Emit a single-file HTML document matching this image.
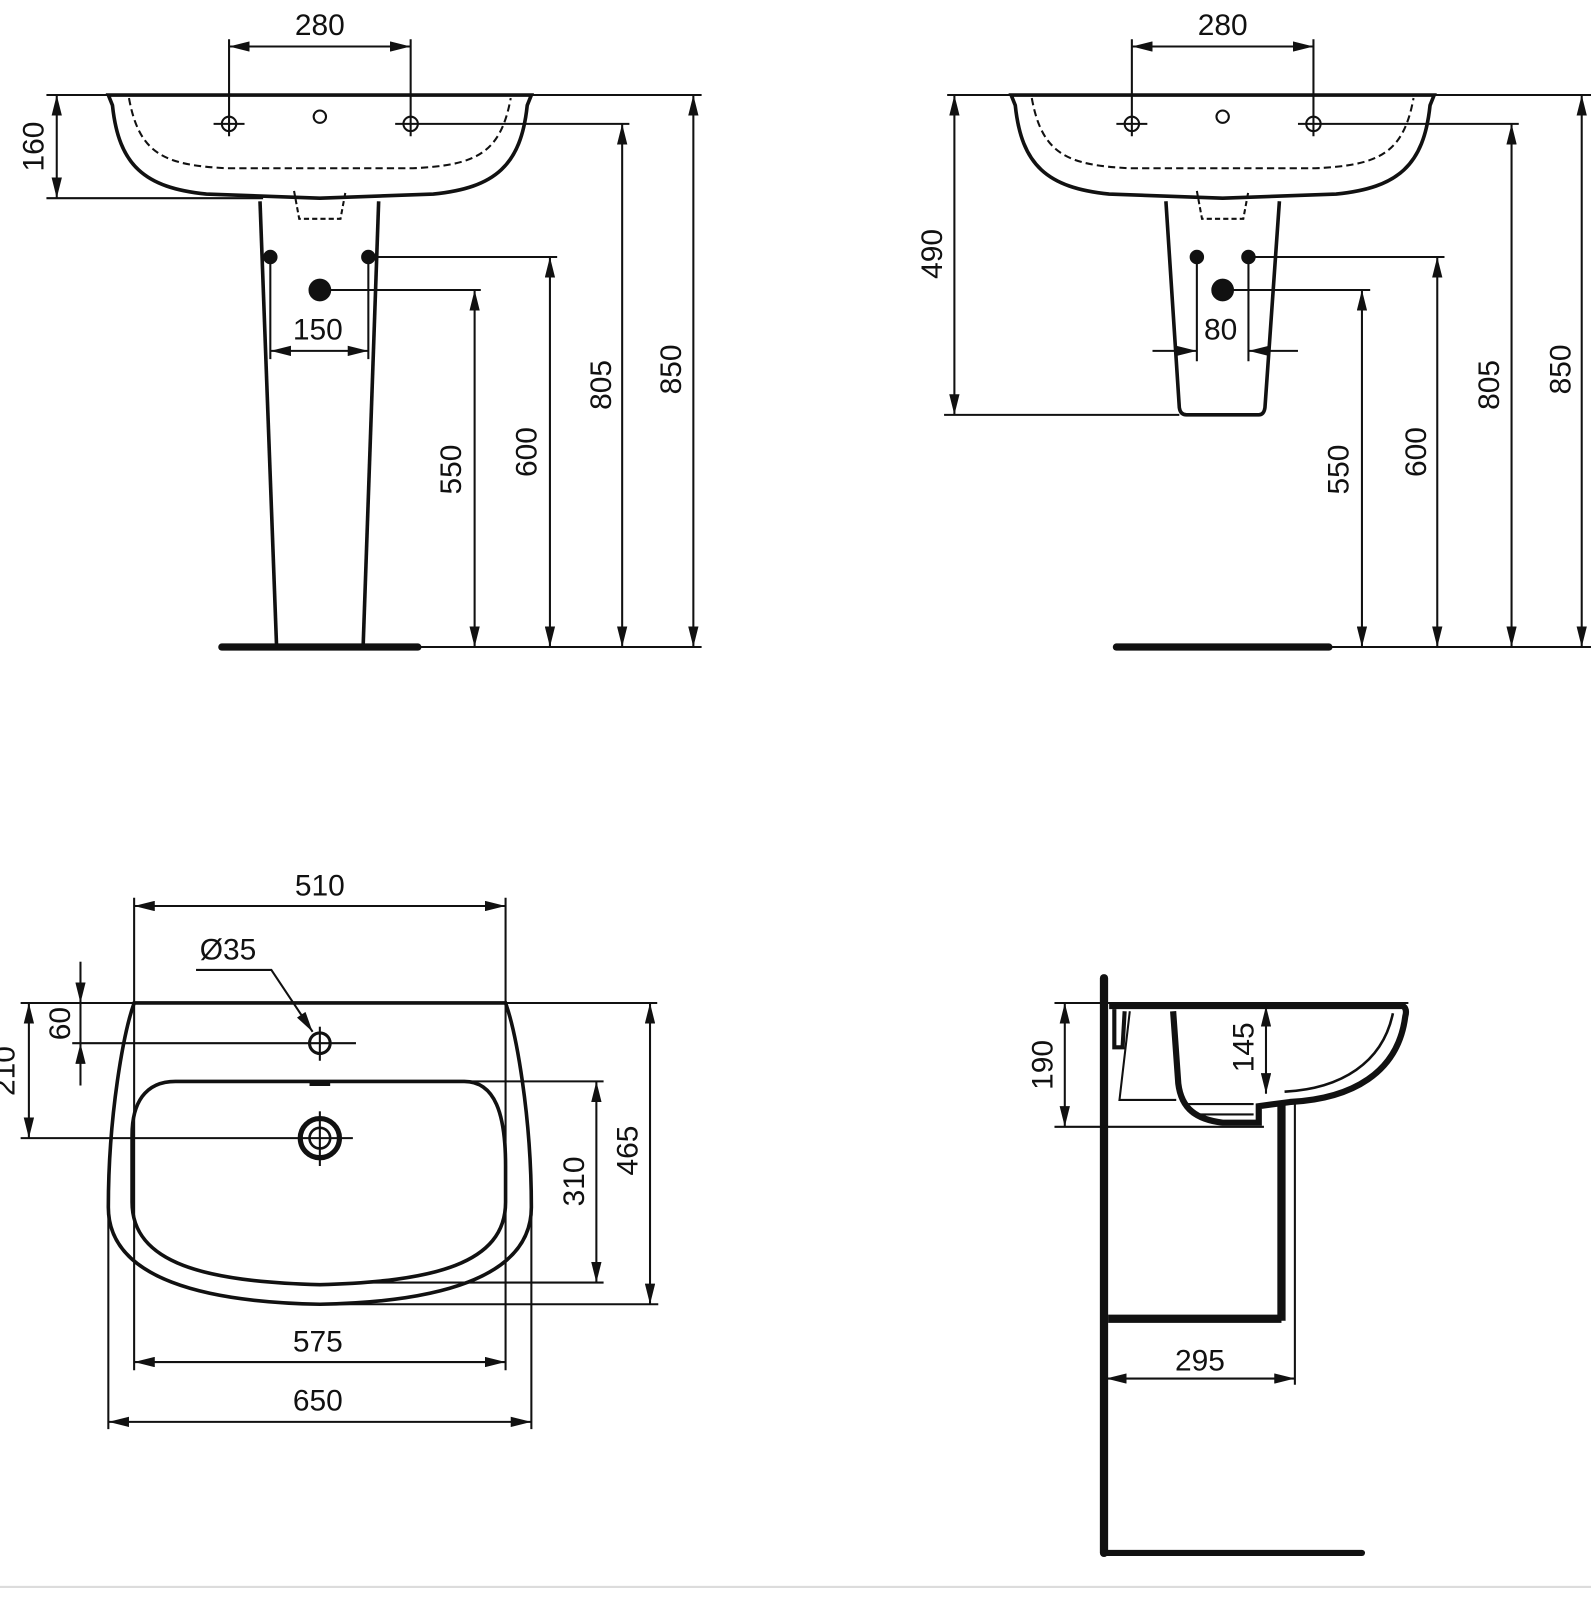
<!DOCTYPE html>
<html><head><meta charset="utf-8"><style>
html,body{margin:0;padding:0;background:#fff;}
svg{display:block;}
text{font-family:"Liberation Sans",Arial,sans-serif;font-size:29px;fill:#111;}
</style></head><body>
<svg width="1591" height="1618" viewBox="0 0 1542 1568" xmlns="http://www.w3.org/2000/svg">
<defs>
<marker id="a" viewBox="0 0 20 10" refX="20" refY="5" markerWidth="20" markerHeight="10" markerUnits="userSpaceOnUse" orient="auto-start-reverse"><path d="M0,0 L20,5 L0,10 Z" fill="#111"/></marker>
</defs>
<g stroke="#111" fill="none" stroke-width="2">
<!-- ===== TOP LEFT ===== -->
<line x1="45" y1="92" x2="680" y2="92"/>
<path d="M105,92 L515,92 L511,102 C505,160 480,182 420,188 L310,192 L200,188 C140,182 115,160 109,102 Z" stroke-width="3.5"/>
<path d="M125,95 C135,150 160,160 220,163 L400,163 C460,160 485,150 495,95" stroke-dasharray="7,4"/>
<circle cx="222" cy="120" r="7"/><line x1="207" y1="120" x2="237" y2="120"/><line x1="222" y1="38" x2="222" y2="132"/>
<circle cx="398" cy="120" r="7"/><line x1="383" y1="120" x2="610" y2="120"/><line x1="398" y1="38" x2="398" y2="132"/>
<circle cx="310" cy="113" r="6"/>
<line x1="222" y1="45" x2="398" y2="45" marker-start="url(#a)" marker-end="url(#a)"/>
<line x1="45" y1="192" x2="255" y2="192"/>
<line x1="55" y1="92" x2="55" y2="192" marker-start="url(#a)" marker-end="url(#a)"/>
<path d="M285,185 L290,212 L330,212 L335,185" stroke-dasharray="5,3"/>
<line x1="252" y1="195" x2="268" y2="625" stroke-width="3.5"/>
<line x1="367" y1="195" x2="352" y2="625" stroke-width="3.5"/>
<line x1="215" y1="627" x2="405" y2="627" stroke-width="7" stroke-linecap="round"/>
<line x1="405" y1="627" x2="680" y2="627"/>
<circle cx="262" cy="249" r="6" fill="#111"/><circle cx="357" cy="249" r="6" fill="#111"/><circle cx="310" cy="281" r="10" fill="#111"/>
<line x1="357" y1="249" x2="540" y2="249"/><line x1="310" y1="281" x2="466" y2="281"/>
<line x1="262" y1="249" x2="262" y2="348"/><line x1="357" y1="249" x2="357" y2="348"/>
<line x1="262" y1="340" x2="357" y2="340" marker-start="url(#a)" marker-end="url(#a)"/>
<line x1="460" y1="281" x2="460" y2="627" marker-start="url(#a)" marker-end="url(#a)"/>
<line x1="533" y1="249" x2="533" y2="627" marker-start="url(#a)" marker-end="url(#a)"/>
<line x1="603" y1="120" x2="603" y2="627" marker-start="url(#a)" marker-end="url(#a)"/>
<line x1="672" y1="92" x2="672" y2="627" marker-start="url(#a)" marker-end="url(#a)"/>
<!-- ===== TOP RIGHT ===== -->
<line x1="918" y1="92" x2="1542" y2="92"/>
<path d="M980,92 L1390,92 L1386,102 C1380,160 1355,182 1295,188 L1185,192 L1075,188 C1015,182 990,160 984,102 Z" stroke-width="3.5"/>
<path d="M1000,95 C1010,150 1035,160 1095,163 L1275,163 C1335,160 1360,150 1370,95" stroke-dasharray="7,4"/>
<circle cx="1097" cy="120" r="7"/><line x1="1082" y1="120" x2="1112" y2="120"/><line x1="1097" y1="38" x2="1097" y2="132"/>
<circle cx="1273" cy="120" r="7"/><line x1="1258" y1="120" x2="1472" y2="120"/><line x1="1273" y1="38" x2="1273" y2="132"/>
<circle cx="1185" cy="113" r="6"/>
<line x1="1097" y1="45" x2="1273" y2="45" marker-start="url(#a)" marker-end="url(#a)"/>
<path d="M1160,185 L1165,212 L1205,212 L1210,185" stroke-dasharray="5,3"/>
<path d="M1130,195 L1143,395 Q1144,402 1150,402 L1220,402 Q1225,402 1226,395 L1240,195" stroke-width="3.5"/>
<line x1="915" y1="402" x2="1143" y2="402"/>
<line x1="925" y1="92" x2="925" y2="402" marker-start="url(#a)" marker-end="url(#a)"/>
<circle cx="1160" cy="249" r="6" fill="#111"/><circle cx="1210" cy="249" r="6" fill="#111"/><circle cx="1185" cy="281" r="10" fill="#111"/>
<line x1="1210" y1="249" x2="1400" y2="249"/><line x1="1185" y1="281" x2="1328" y2="281"/>
<line x1="1160" y1="249" x2="1160" y2="350"/><line x1="1210" y1="249" x2="1210" y2="350"/>
<line x1="1117" y1="340" x2="1160" y2="340" marker-end="url(#a)"/>
<line x1="1258" y1="340" x2="1210" y2="340" marker-end="url(#a)"/>
<line x1="1082" y1="627" x2="1288" y2="627" stroke-width="7" stroke-linecap="round"/>
<line x1="1288" y1="627" x2="1542" y2="627"/>
<line x1="1320" y1="281" x2="1320" y2="627" marker-start="url(#a)" marker-end="url(#a)"/>
<line x1="1393" y1="249" x2="1393" y2="627" marker-start="url(#a)" marker-end="url(#a)"/>
<line x1="1465" y1="120" x2="1465" y2="627" marker-start="url(#a)" marker-end="url(#a)"/>
<line x1="1533" y1="92" x2="1533" y2="627" marker-start="url(#a)" marker-end="url(#a)"/>
<!-- ===== BOTTOM LEFT ===== -->
<line x1="20" y1="972" x2="637" y2="972"/>
<path d="M130,972 L490,972 C500,1000 515,1080 515,1170 C515,1240 420,1262 310,1264 C200,1262 105,1240 105,1170 C105,1080 120,1000 130,972 Z" stroke-width="3.5"/>
<path d="M170,1048 L450,1048 C480,1048 490,1080 490,1130 L490,1165 C490,1225 420,1242 310,1245 C200,1242 128,1225 128,1165 L128,1100 C128,1070 140,1048 170,1048 Z" stroke-width="3.5"/>
<circle cx="310" cy="1011" r="10" stroke-width="3"/><line x1="70" y1="1011" x2="345" y2="1011"/><line x1="310" y1="995" x2="310" y2="1028"/>
<circle cx="310" cy="1103" r="19" stroke-width="5"/><circle cx="310" cy="1103" r="10" stroke-width="2.5"/>
<line x1="20" y1="1103" x2="342" y2="1103"/><line x1="310" y1="1077" x2="310" y2="1130"/>
<line x1="300" y1="1051" x2="320" y2="1051" stroke-width="3"/>
<line x1="130" y1="870" x2="130" y2="1328"/><line x1="490" y1="870" x2="490" y2="1328"/>
<line x1="130" y1="878" x2="490" y2="878" marker-start="url(#a)" marker-end="url(#a)"/>
<path d="M190,940 L263,940 L303,1000" marker-end="url(#a)"/>
<line x1="78" y1="932" x2="78" y2="972" marker-end="url(#a)"/>
<line x1="78" y1="1052" x2="78" y2="1011" marker-end="url(#a)"/>
<line x1="78" y1="972" x2="78" y2="1011"/>
<line x1="28" y1="972" x2="28" y2="1103" marker-start="url(#a)" marker-end="url(#a)"/>
<line x1="450" y1="1048" x2="585" y2="1048"/><line x1="350" y1="1243" x2="585" y2="1243"/>
<line x1="578" y1="1048" x2="578" y2="1243" marker-start="url(#a)" marker-end="url(#a)"/>
<line x1="310" y1="1264" x2="638" y2="1264"/>
<line x1="630" y1="972" x2="630" y2="1264" marker-start="url(#a)" marker-end="url(#a)"/>
<line x1="130" y1="1320" x2="490" y2="1320" marker-start="url(#a)" marker-end="url(#a)"/>
<line x1="105" y1="1170" x2="105" y2="1385"/><line x1="515" y1="1170" x2="515" y2="1385"/>
<line x1="105" y1="1378" x2="515" y2="1378" marker-start="url(#a)" marker-end="url(#a)"/>
<!-- ===== BOTTOM RIGHT ===== -->
<line x1="1070" y1="948" x2="1070" y2="1505" stroke-width="8" stroke-linecap="round"/>
<line x1="1070" y1="1505" x2="1320" y2="1505" stroke-width="6" stroke-linecap="round"/>
<line x1="1074" y1="1278" x2="1242" y2="1278" stroke-width="8"/>
<line x1="1242" y1="1068" x2="1242" y2="1280" stroke-width="8"/>
<line x1="1255" y1="1070" x2="1255" y2="1342"/>
<line x1="1022" y1="972" x2="1365" y2="972" stroke-width="2"/>
<path d="M1075,975 L1360,975 Q1364,978 1362,985 C1355,1040 1310,1065 1250,1068 L1220,1072 L1220,1088 L1185,1088 C1160,1085 1145,1075 1142,1050 L1137,980" stroke-width="6"/>
<path d="M1350,982 C1340,1030 1300,1055 1245,1058" stroke-width="2.5"/>
<path d="M1080,978 L1080,1015 L1088,1015 L1090,980" stroke-width="4"/>
<path d="M1095,980 L1085,1066 L1140,1066" stroke-width="2"/>
<path d="M1150,1070 L1215,1070 M1155,1080 L1215,1080" stroke-width="2"/>
<line x1="1022" y1="1092" x2="1225" y2="1092"/>
<line x1="1032" y1="972" x2="1032" y2="1092" marker-start="url(#a)" marker-end="url(#a)"/>
<line x1="1227" y1="975" x2="1227" y2="1060" marker-start="url(#a)" marker-end="url(#a)"/>
<line x1="1072" y1="1336" x2="1255" y2="1336" marker-start="url(#a)" marker-end="url(#a)"/>
</g>
<line x1="0" y1="1538" x2="1542" y2="1538" stroke="#dcdcdc" stroke-width="2"/>
<g text-anchor="middle">
<text x="310" y="34">280</text>
<text x="1185" y="34">280</text>
<text transform="translate(42,142) rotate(-90)">160</text>
<text x="308" y="329">150</text>
<text transform="translate(447,455) rotate(-90)">550</text>
<text transform="translate(520,438) rotate(-90)">600</text>
<text transform="translate(592,373) rotate(-90)">805</text>
<text transform="translate(660,358) rotate(-90)">850</text>
<text transform="translate(913,246) rotate(-90)">490</text>
<text x="1183" y="329">80</text>
<text transform="translate(1307,455) rotate(-90)">550</text>
<text transform="translate(1382,438) rotate(-90)">600</text>
<text transform="translate(1453,373) rotate(-90)">805</text>
<text transform="translate(1522,358) rotate(-90)">850</text>
<text x="310" y="868">510</text>
<text x="221" y="930">Ø35</text>
<text transform="translate(68,992) rotate(-90)">60</text>
<text transform="translate(14,1038) rotate(-90)">210</text>
<text transform="translate(566,1145) rotate(-90)">310</text>
<text transform="translate(618,1115) rotate(-90)">465</text>
<text x="308" y="1310">575</text>
<text x="308" y="1367">650</text>
<text transform="translate(1020,1032) rotate(-90)">190</text>
<text transform="translate(1215,1015) rotate(-90)">145</text>
<text x="1163" y="1328">295</text>
</g>
</svg>
</body></html>
